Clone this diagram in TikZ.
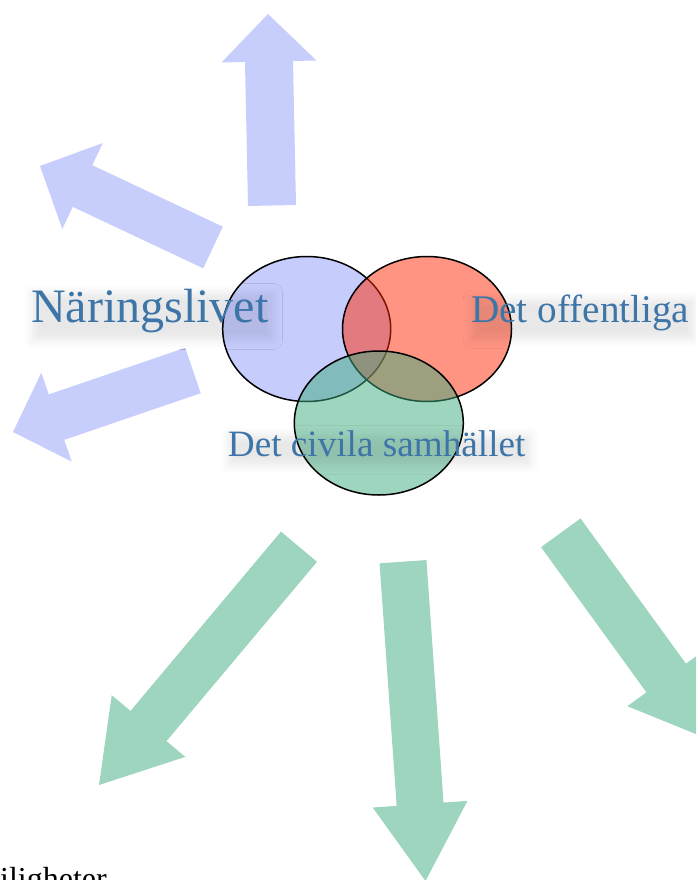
\documentclass[tikz,border=0pt]{standalone}
\usepackage{fontspec}
\setmainfont{Liberation Serif}
\usetikzlibrary{calc,shadows.blur}
\definecolor{vennblue}{RGB}{141,153,249}
\definecolor{vennred}{RGB}{255,41,5}
\definecolor{venngreen}{RGB}{61,171,125}
\definecolor{arrowblue}{RGB}{200,206,252}
\definecolor{arrowgreen}{RGB}{158,213,190}
\definecolor{labelblue}{RGB}{62,117,168}
\newcommand\blockarrow[6]{%
  \coordinate (baA) at #2;
  \coordinate (baT) at #3;
  \coordinate (baB) at ($(baT)!#6!(baA)$);
  \fill[#1] ($(baA)!#4!90:(baT)$) -- ($(baB)!#4!90:(baT)$) -- ($(baB)!#5!90:(baT)$)
    -- (baT) -- ($(baB)!#5!-90:(baT)$) -- ($(baB)!#4!-90:(baT)$) -- ($(baA)!#4!-90:(baT)$) -- cycle;
}
\tikzset{
  vennset/.style={draw=black, line width=1.5pt, fill opacity=0.5, draw opacity=1},
  sector/.style={text=labelblue, inner sep=2pt, anchor=base west,
    blur shadow={shadow xshift=3pt, shadow yshift=-6pt, shadow blur radius=9pt, shadow opacity=9}},
  bluearrow/.style={fill=arrowblue},
  greenarrow/.style={fill=arrowgreen},
}
\begin{document}
\begin{tikzpicture}[x=1pt,y=-1pt]
\useasboundingbox (0,0) rectangle (696,880);
\clip (0,0) rectangle (696,880);
% blue arrows
\blockarrow{bluearrow}{(272,205.5)}{(268,14)}{24pt}{47.5pt}{47.5pt}
\blockarrow{bluearrow}{(213,247.5)}{(40,166)}{23pt}{47.5pt}{47pt}
\blockarrow{bluearrow}{(193,370.5)}{(13,432)}{24pt}{47pt}{46pt}
% green arrows
\blockarrow{greenarrow}{(299,546.7)}{(99,785)}{23.5pt}{48pt}{77pt}
\blockarrow{greenarrow}{(403,561.7)}{(425.5,881)}{23.5pt}{47.5pt}{77pt}
\blockarrow{greenarrow}{(560.8,532.8)}{(711.4,740.3)}{24.4pt}{48pt}{77pt}
% venn
\path[vennset, fill=vennblue] (306.7,329) ellipse [x radius=84pt, y radius=72.5pt];
\path[vennset, fill=vennred] (427,329) ellipse [x radius=84.5pt, y radius=72.5pt];
\path[vennset, fill=venngreen] (378.8,423) ellipse [x radius=84.5pt, y radius=72pt];
% labels
\node[sector, font=\fontsize{48}{58}\selectfont] (naring) at (29,322) {Näringslivet};
\node[sector, font=\fontsize{39.2}{47}\selectfont] (offentliga) at (469,322.7) {Det offentliga};
\node[sector, font=\fontsize{37.2}{45}\selectfont] (civila) at (225.7,456.7) {Det civila samhället};
\node[anchor=base west, inner sep=0pt, font=\fontsize{32}{38}\selectfont] (bottom) at (0,889) {iligheter};
\end{tikzpicture}
\end{document}
